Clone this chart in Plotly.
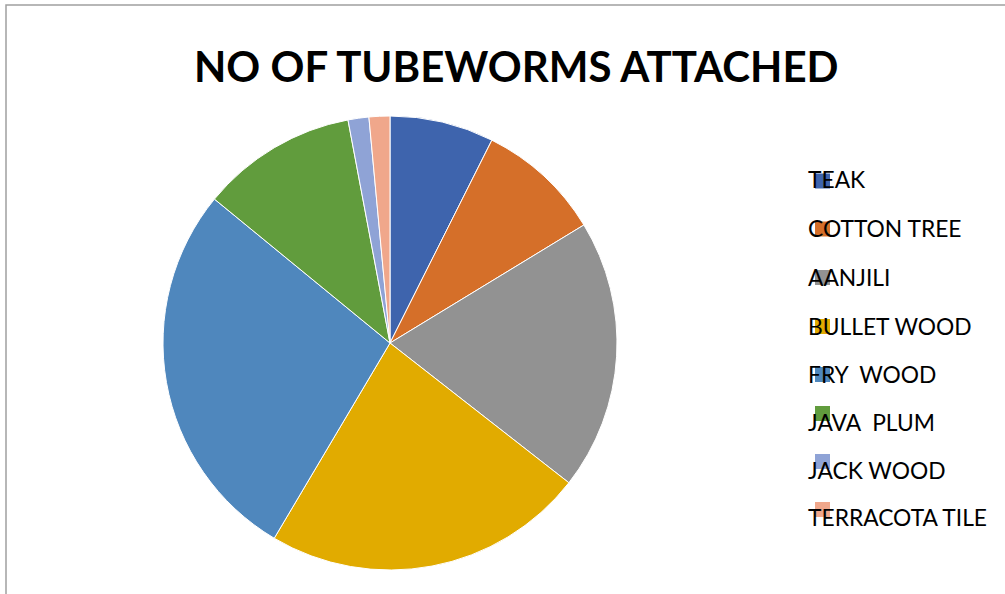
import plotly.graph_objects as go

# Number of tubeworms attached per substrate
categories = ["TEAK", "COTTON TREE", "AANJILI", "BULLET WOOD", "FRY  WOOD",
              "JAVA  PLUM", "JACK WOOD", "TERRACOTA TILE"]
counts = [10, 12, 26, 31, 37, 15, 2, 2]
colors = ["#3E64AD", "#D56F29", "#929292", "#E1AB00", "#4F87BD",
          "#619C3D", "#8FA3D6", "#F0A78B"]

W, H = 1005, 594


def px(x):
    return x / W


def py(y):
    return 1 - y / H


fig = go.Figure(go.Pie(
    labels=categories,
    values=counts,
    marker=dict(colors=colors, line=dict(color="white", width=1)),
    sort=False,
    direction="clockwise",
    rotation=0,
    textinfo="none",
    hoverinfo="label+value+percent",
    showlegend=False,
    domain=dict(x=[px(163), px(617)], y=[py(570), py(116)]),
))

# Hand-placed legend on the right
legend_x = 806
text_y = [179.5, 228, 277, 326, 374, 422, 470, 517]
swatch_y = [181, 229, 277.5, 326.5, 374.5, 413.5, 461.5, 509.5]
shapes = []
annotations = []
for name, col, ty, sy in zip(categories, colors, text_y, swatch_y):
    shapes.append(dict(type="rect", xref="paper", yref="paper",
                       x0=px(815), x1=px(830), y0=py(sy + 7.5), y1=py(sy - 7.5),
                       fillcolor=col, line=dict(width=0), layer="above"))
    annotations.append(dict(text=name, xref="paper", yref="paper",
                            x=px(legend_x), y=py(ty), xanchor="left", yanchor="middle",
                            showarrow=False,
                            font=dict(family="Lato", size=22.8, color="#000000")))

annotations.append(dict(text="<b>NO OF TUBEWORMS ATTACHED</b>", xref="paper", yref="paper",
                        x=px(516), y=py(66), xanchor="center", yanchor="middle",
                        showarrow=False,
                        font=dict(family="Lato", size=42, color="#000000")))

# Chart-area frame (top and left edges visible)
shapes.append(dict(type="rect", xref="paper", yref="paper",
                   x0=px(6), x1=px(1015), y0=py(604), y1=py(5),
                   line=dict(color="#A0A0A0", width=1.5), fillcolor="rgba(0,0,0,0)",
                   layer="below"))

fig.update_layout(
    width=W, height=H,
    margin=dict(l=0, r=0, t=0, b=0),
    paper_bgcolor="white",
    plot_bgcolor="white",
    shapes=shapes,
    annotations=annotations,
)

fig.write_html("out.html")
